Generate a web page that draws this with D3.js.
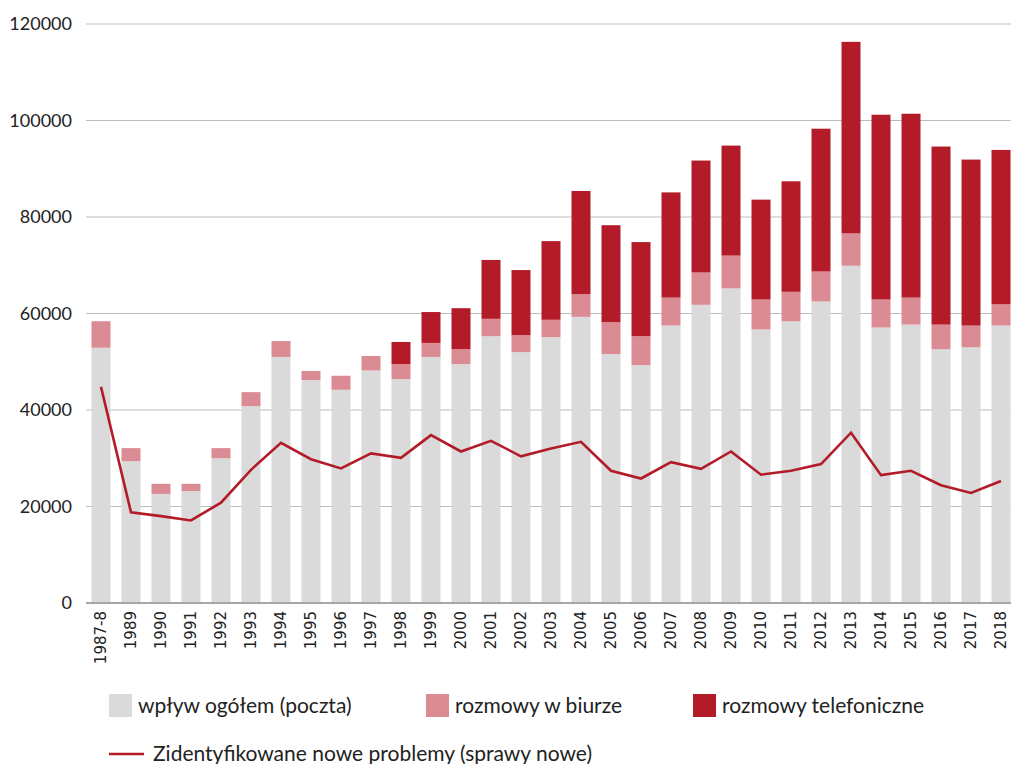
<!DOCTYPE html>
<html>
<head>
<meta charset="utf-8">
<script src="https://cdn.jsdelivr.net/npm/d3@7"></script>
<style>
  body { margin: 0; background: #fff; }
  svg text { fill: #222; }
</style>
</head>
<body>
<div id="chart"></div>
<script>
// Data
const years = ['1987-8', '1989', '1990', '1991', '1992', '1993', '1994', '1995', '1996', '1997', '1998', '1999', '2000',
    '2001', '2002', '2003', '2004', '2005', '2006', '2007', '2008', '2009', '2010', '2011', '2012', '2013', '2014',
    '2015', '2016', '2017', '2018'];
const poczta = [52900, 29400, 22600, 23200, 30000, 40800, 51000, 46200, 44200, 48200, 46400, 51000, 49500, 55300,
    52000, 55100, 59300, 51600, 49300, 57500, 61800, 65200, 56700, 58400, 62500, 69900, 57100, 57700, 52600, 53000, 57500];
const biuro = [5500, 2700, 2100, 1500, 2100, 2900, 3300, 1900, 2900, 3000, 3100, 2900, 3100, 3600, 3500, 3600, 4700,
    6600, 6000, 5800, 6700, 6800, 6200, 6100, 6200, 6700, 5800, 5600, 5100, 4500, 4400];
const telefon = [0, 0, 0, 0, 0, 0, 0, 0, 0, 0, 4600, 6400, 8500, 12200, 13500, 16300, 21400, 20100, 19500, 21800,
    23200, 22800, 20700, 22900, 29600, 39700, 38300, 38100, 36900, 34400, 32000];
const nowe = [44800, 18800, 18000, 17100, 20800, 27600, 33200, 29800, 27900, 31000, 30100, 34800, 31400, 33600, 30400,
    32000, 33400, 27400, 25800, 29200, 27800, 31400, 26600, 27400, 28800, 35300, 26500, 27400, 24400, 22800, 25300];
const yTicks = [0, 20000, 40000, 60000, 80000, 100000, 120000];

const seriesKeys = ['poczta', 'biuro', 'telefon'];
const seriesNames = ['wpływ ogółem (poczta)', 'rozmowy w biurze', 'rozmowy telefoniczne'];
const colors = ['#d9dad9', '#db8b93', '#b31b28'];
const lineName = 'Zidentyfikowane nowe problemy (sprawy nowe)';

const table = years.map((y, i) => ({ year: y, poczta: poczta[i], biuro: biuro[i], telefon: telefon[i], nowe: nowe[i] }));

const width = 1011, height = 764;
const svg = d3.select('#chart').append('svg')
    .attr('width', width)
    .attr('height', height)
    .style('font-family', 'Lato, sans-serif');

const x = d3.scaleBand()
    .domain(years)
    .range([86, 1016])
    .paddingInner(0.367)
    .paddingOuter(0.183);

const y = d3.scaleLinear()
    .domain([0, 120000])
    .range([603, 24]);

// gridlines
svg.append('g')
    .selectAll('line')
    .data(yTicks.slice(1))
    .join('line')
    .attr('x1', 86).attr('x2', width)
    .attr('y1', d => y(d)).attr('y2', d => y(d))
    .attr('stroke', '#bdbdbd')
    .attr('stroke-width', 1.2);

// y labels
svg.append('g')
    .selectAll('text')
    .data(yTicks)
    .join('text')
    .attr('x', 72)
    .attr('y', d => y(d))
    .attr('dy', '0.35em')
    .attr('text-anchor', 'end')
    .attr('font-size', 18)
    .text(d => d);

// stacked bars
const stack = d3.stack().keys(seriesKeys);
const layers = stack(table);

svg.append('g')
    .selectAll('g')
    .data(layers)
    .join('g')
    .attr('fill', (d, i) => colors[i])
    .selectAll('rect')
    .data(d => d)
    .join('rect')
    .attr('x', d => x(d.data.year))
    .attr('width', x.bandwidth())
    .attr('y', d => y(d[1]))
    .attr('height', d => y(d[0]) - y(d[1]));

// bottom axis line
svg.append('line')
    .attr('x1', 86).attr('x2', width)
    .attr('y1', y(0)).attr('y2', y(0))
    .attr('stroke', '#a6a6a6')
    .attr('stroke-width', 2);

// x labels, rotated
svg.append('g')
    .selectAll('text')
    .data(years)
    .join('text')
    .attr('transform', d => `translate(${x(d) + x.bandwidth() / 2 + 5}, 611) rotate(-90)`)
    .attr('text-anchor', 'end')
    .attr('font-family', 'DejaVu Sans, sans-serif')
    .attr('font-size', 15)
    .text(d => d);

// line
const line = d3.line()
    .x(d => x(d.year) + x.bandwidth() / 2)
    .y(d => y(d.nowe));

svg.append('path')
    .datum(table)
    .attr('d', line)
    .attr('fill', 'none')
    .attr('stroke', '#b31b28')
    .attr('stroke-width', 2.6);

// legend
const legendX = [109, 426, 693];
const legend = svg.append('g');
seriesNames.forEach((name, i) => {
    legend.append('rect')
        .attr('x', legendX[i]).attr('y', 694)
        .attr('width', 23).attr('height', 23)
        .attr('fill', colors[i]);
    legend.append('text')
        .attr('x', legendX[i] + 29)
        .attr('y', 713)
        .attr('font-size', 21)
        .text(name);
});
legend.append('line')
    .attr('x1', 109).attr('x2', 144)
    .attr('y1', 754).attr('y2', 754)
    .attr('stroke', '#b31b28')
    .attr('stroke-width', 2.6);
legend.append('text')
    .attr('x', 153)
    .attr('y', 761)
    .attr('font-size', 21)
    .text(lineName);
</script>
</body>
</html>
